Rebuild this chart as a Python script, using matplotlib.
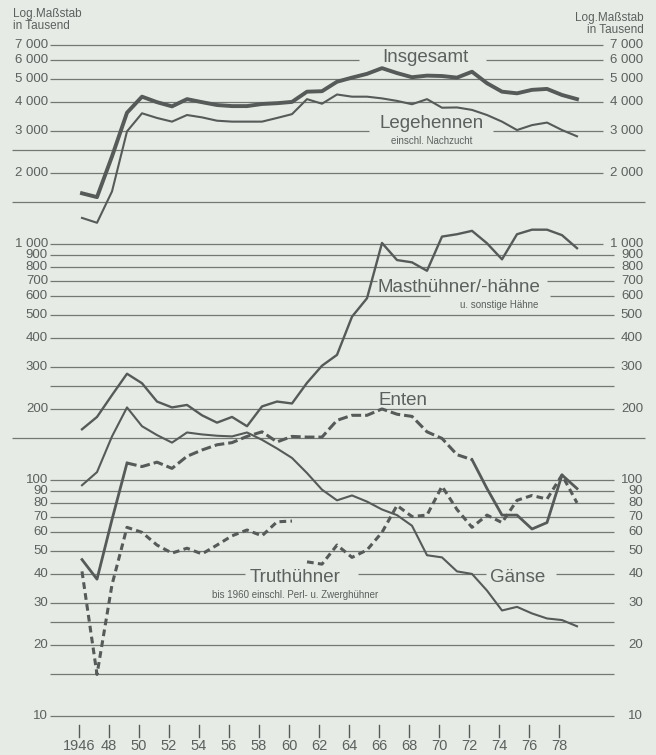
import matplotlib
matplotlib.use("Agg")
import matplotlib.pyplot as plt
import numpy as np

plt.rcParams["font.family"] = ["Liberation Sans", "DejaVu Sans"]

BG = "#e7ebe5"
INK = "#565a58"
GRID = "#747875"
TXT = "#5c605e"

years = np.arange(1946, 1980)

# Bestand in Tausend
insgesamt = [1640, 1580, 2350, 3600, 4210, 3990, 3830, 4110, 3990, 3880,
             3840, 3840, 3920, 3950, 4000, 4420, 4440, 4870, 5070, 5260,
             5560, 5300, 5090, 5170, 5150, 5070, 5370, 4800, 4420, 4350,
             4500, 4540, 4280, 4110]
legehennen = [1290, 1230, 1670, 3000, 3580, 3420, 3300, 3520, 3440, 3330,
              3300, 3300, 3300, 3420, 3550, 4110, 3930, 4300, 4210, 4210,
              4140, 4040, 3910, 4110, 3780, 3790, 3700, 3520, 3300, 3040,
              3190, 3270, 3040, 2860]
masthuehner = [164, 185, 229, 282, 257, 215, 203, 208, 188, 175,
               185, 169, 205, 215, 211, 258, 305, 339, 492, 589,
               1010, 855, 836, 770, 1075, 1100, 1137, 1007, 861, 1100,
               1150, 1150, 1090, 960]
enten = [46, 38, 68, 118, 114, 119, 112, 126, 134, 141,
         144, 153, 160, 145, 153, 152, 152, 179, 188, 188,
         200, 190, 186, 160, 150, 128, 122, 92, 71, 71,
         62, 66, 105, 92]
gaense = [95, 108, 153, 203, 169, 155, 144, 159, 156, 154,
          153, 159, 148, 136, 124, 107, 91, 82, 86, 81,
          75, 71, 64, 48, 47, 41, 40, 34, 28, 29,
          27.2, 25.9, 25.5, 24]
truthuehner_bis1960 = [41, 15, 36, 63, 60, 53, 49, 51.4, 48.6, 53,
                       58, 61.4, 58, 66.5, 67]
truthuehner_ab1961 = [45, 44, 53, 47, 50.5, 60, 78, 70, 71, 94,
                      75, 63, 71, 66, 82, 86, 83, 105, 80]

grid_values = [7000, 6000, 5000, 4000, 3000, 2500, 2000, 1500,
               1000, 900, 800, 700, 600, 500, 400, 300, 250, 200, 150,
               100, 90, 80, 70, 60, 50, 40, 30, 25, 20, 15, 10]
labelled = {7000: "7 000", 6000: "6 000", 5000: "5 000", 4000: "4 000",
            3000: "3 000", 2000: "2 000", 1000: "1 000", 900: "900",
            800: "800", 700: "700", 600: "600", 500: "500", 400: "400",
            300: "300", 200: "200", 100: "100", 90: "90", 80: "80",
            70: "70", 60: "60", 50: "50", 40: "40", 30: "30", 20: "20",
            10: "10"}
tick_years = np.arange(1946, 1979, 2)


# pixel helpers for the canvas layout (656 x 755)
def xp(px):
    return 1946 + (px - 82) / 15.0


def yp(py):
    return 10 ** (1 + (716 - py) / 236.0)


fig = plt.figure(figsize=(6.56, 7.55), dpi=100, facecolor=BG)
ax = fig.add_axes([0, 0, 1, 1])
ax.set_facecolor(BG)
ax.set_yscale("log")
ax.set_xlim(xp(0), xp(656))
ax.set_ylim(yp(755), yp(0))
ax.axis("off")

# horizontal rules, broken where a series name sits on them
full_width = {2500, 1500, 150}
gaps = {6000: [(359, 486)], 3000: [(369, 493)], 700: [(377, 547)],
        600: [(430, 550)], 40: [(245, 358), (486, 556)]}
for v in grid_values:
    if v in full_width:
        x0, x1 = 12, 645
    elif v in labelled:
        x0, x1 = 50, (603 if v >= 1000 else 614)
    else:
        x0, x1 = 50, 614
    cuts = [x0]
    for a, b in gaps.get(v, []):
        cuts += [a, b]
    cuts.append(x1)
    for a, b in zip(cuts[::2], cuts[1::2]):
        ax.plot([xp(a), xp(b)], [v, v], color=GRID, lw=0.9, zorder=1,
                solid_capstyle="butt")

for v, lab in labelled.items():
    ax.text(xp(48), v, lab, ha="right", va="center", fontsize=9.5, color=TXT)
    ax.text(xp(643), v, lab, ha="right", va="center", fontsize=9.5, color=TXT)

# series
ax.plot(years, insgesamt, color=INK, lw=2.8, zorder=4, solid_joinstyle="round")
ax.plot(years, legehennen, color=INK, lw=1.5, zorder=4)
ax.plot(years, masthuehner, color=INK, lw=1.7, zorder=4)
ax.plot(years, gaense, color=INK, lw=1.5, zorder=4)

e = np.array(enten)
ax.plot(years[:4], e[:4], color=INK, lw=2.0, zorder=4)
ax.plot(years[3:27], e[3:27], color=INK, lw=2.2, ls=(0, (3.2, 1.3)), zorder=4)
ax.plot(years[26:], e[26:], color=INK, lw=2.0, zorder=4)

ax.plot(years[:15], truthuehner_bis1960, color=INK, lw=2.2,
        ls=(0, (2.2, 1.4)), zorder=4)
ax.plot(years[15:], truthuehner_ab1961, color=INK, lw=2.2,
        ls=(0, (2.2, 1.4)), zorder=4)

# series names
ax.text(xp(425), yp(57), "Insgesamt", ha="center", va="center",
        fontsize=13.5, color=TXT)
ax.text(xp(432), yp(123), "Legehennen", ha="center", va="center",
        fontsize=13.5, color=TXT)
ax.text(xp(432), yp(141), "einschl. Nachzucht", ha="center", va="center",
        fontsize=7, color=TXT)
ax.text(xp(459), yp(287), "Masthühner/-hähne", ha="center", va="center",
        fontsize=13.5, color=TXT)
ax.text(xp(538), yp(305), "u. sonstige Hähne", ha="right", va="center",
        fontsize=7, color=TXT)
ax.text(xp(403), yp(400), "Enten", ha="center", va="center",
        fontsize=13.5, color=TXT)
ax.text(xp(295), yp(577), "Truthühner", ha="center", va="center",
        fontsize=13.5, color=TXT)
ax.text(xp(295), yp(595), "bis 1960 einschl. Perl- u. Zwerghühner",
        ha="center", va="center", fontsize=7, color=TXT)
ax.text(xp(518), yp(578), "Gänse", ha="center", va="center",
        fontsize=13.5, color=TXT)

ax.text(xp(13), yp(8), "Log.Maßstab\nin Tausend", ha="left", va="top",
        fontsize=8.5, color=TXT, linespacing=0.95)
ax.text(xp(644), yp(12), "Log.Maßstab\nin Tausend", ha="right", va="top",
        fontsize=8.5, color=TXT, linespacing=0.95)

# year axis
for yr in tick_years:
    ax.plot([yr - 0.2, yr - 0.2], [yp(725), yp(737)], color=INK, lw=1.0)
    lab = str(yr) if yr == 1946 else f"{yr % 100:02d}"
    ax.text(yr - 0.2, yp(746), lab, ha="center", va="center",
            fontsize=10.5, color=TXT)

fig.savefig("out.png", dpi=100, facecolor=BG)
